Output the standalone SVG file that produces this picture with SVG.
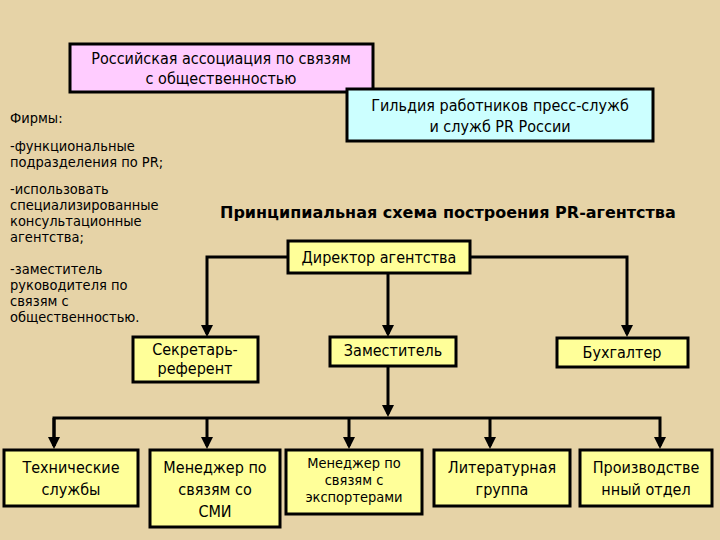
<svg xmlns="http://www.w3.org/2000/svg" width="720" height="540" viewBox="0 0 720 540">
<defs>
<marker id="ah" markerWidth="4" markerHeight="4" refX="3" refY="2" orient="auto" markerUnits="strokeWidth"><path d="M0,0 L4,2 L0,4 z" fill="#000"/></marker>
<style>
.b{fill:#ffff99;stroke:#000;stroke-width:3}
text{font-family:"DejaVu Sans Condensed","DejaVu Sans",sans-serif;font-size:16px;fill:#000}
.c{text-anchor:middle}
.f{font-size:14.5px}
.l{fill:none;stroke:#000;stroke-width:3}
</style>
</defs>
<rect width="720" height="540" fill="#e6d3a7"/>
<g id="rapr"><rect x="70" y="44" width="303" height="48" fill="#ffccff" stroke="#000" stroke-width="3"/><text class="c" x="221" y="64">Российская ассоциация по связям</text><text class="c" x="221" y="84">с общественностью</text></g>
<g id="guild"><rect x="347" y="89" width="306" height="52" fill="#ccffff" stroke="#000" stroke-width="3"/><text class="c" x="500" y="111">Гильдия работников пресс-служб</text><text class="c" x="500" y="132">и служб PR России</text></g>
<g id="firms"><text class="f" x="10" y="123">Фирмы:</text>
<text class="f" x="10" y="151">-функциональные</text><text class="f" x="10" y="167">подразделения по PR;</text>
<text class="f" x="10" y="194">-использовать</text><text class="f" x="10" y="210">специализированные</text><text class="f" x="10" y="226">консультационные</text><text class="f" x="10" y="242">агентства;</text>
<text class="f" x="10" y="274">-заместитель</text><text class="f" x="10" y="290">руководителя по</text><text class="f" x="10" y="306">связям с</text><text class="f" x="10" y="322">общественностью.</text></g>
<g id="title"><text x="220" y="218" style="font-weight:bold;font-family:'DejaVu Sans',sans-serif;font-size:16px">Принципиальная схема построения PR-агентства</text></g>
<g id="connectors">
<path class="l" d="M288,257 H207 V334" marker-end="url(#ah)"/>
<path class="l" d="M470,257 H627 V334" marker-end="url(#ah)"/>
<path class="l" d="M388,273 V334" marker-end="url(#ah)"/>
<path class="l" d="M388,366 V414" marker-end="url(#ah)"/>
<path class="l" d="M54,446 V418 H660 V446" marker-end="url(#ah)"/>
<path class="l" d="M54,418 V446" marker-end="url(#ah)"/>
<path class="l" d="M207,418 V446" marker-end="url(#ah)"/>
<path class="l" d="M349,418 V446" marker-end="url(#ah)"/>
<path class="l" d="M490,418 V446" marker-end="url(#ah)"/>
</g>
<g id="director"><rect class="b" x="288" y="241" width="182" height="32"/><text class="c" x="379" y="263">Директор агентства</text></g>
<g id="secretary"><rect class="b" x="133" y="337" width="125" height="45"/><text class="c" x="195" y="355">Секретарь-</text><text class="c" x="195" y="374">референт</text></g>
<g id="deputy"><rect class="b" x="330" y="337" width="126" height="29"/><text class="c" x="393" y="356">Заместитель</text></g>
<g id="accountant"><rect class="b" x="557" y="338" width="131" height="29"/><text class="c" x="622" y="358">Бухгалтер</text></g>
<g id="tech"><rect class="b" x="4" y="450" width="134" height="56"/><text class="c" x="71" y="473">Технические</text><text class="c" x="71" y="495">службы</text></g>
<g id="media"><rect class="b" x="150" y="450" width="130" height="77"/><text class="c" x="215" y="473">Менеджер по</text><text class="c" x="215" y="495">связям со</text><text class="c" x="215" y="517">СМИ</text></g>
<g id="export"><rect class="b" x="286" y="450" width="136" height="64"/><text class="c f" x="354" y="468">Менеджер по</text><text class="c f" x="354" y="485">связям с</text><text class="c f" x="354" y="502">экспортерами</text></g>
<g id="lit"><rect class="b" x="434" y="450" width="136" height="56"/><text class="c" x="502" y="473">Литературная</text><text class="c" x="502" y="495">группа</text></g>
<g id="prod"><rect class="b" x="580" y="450" width="132" height="56"/><text class="c" x="646" y="473">Производстве</text><text class="c" x="646" y="495">нный отдел</text></g>
</svg>
